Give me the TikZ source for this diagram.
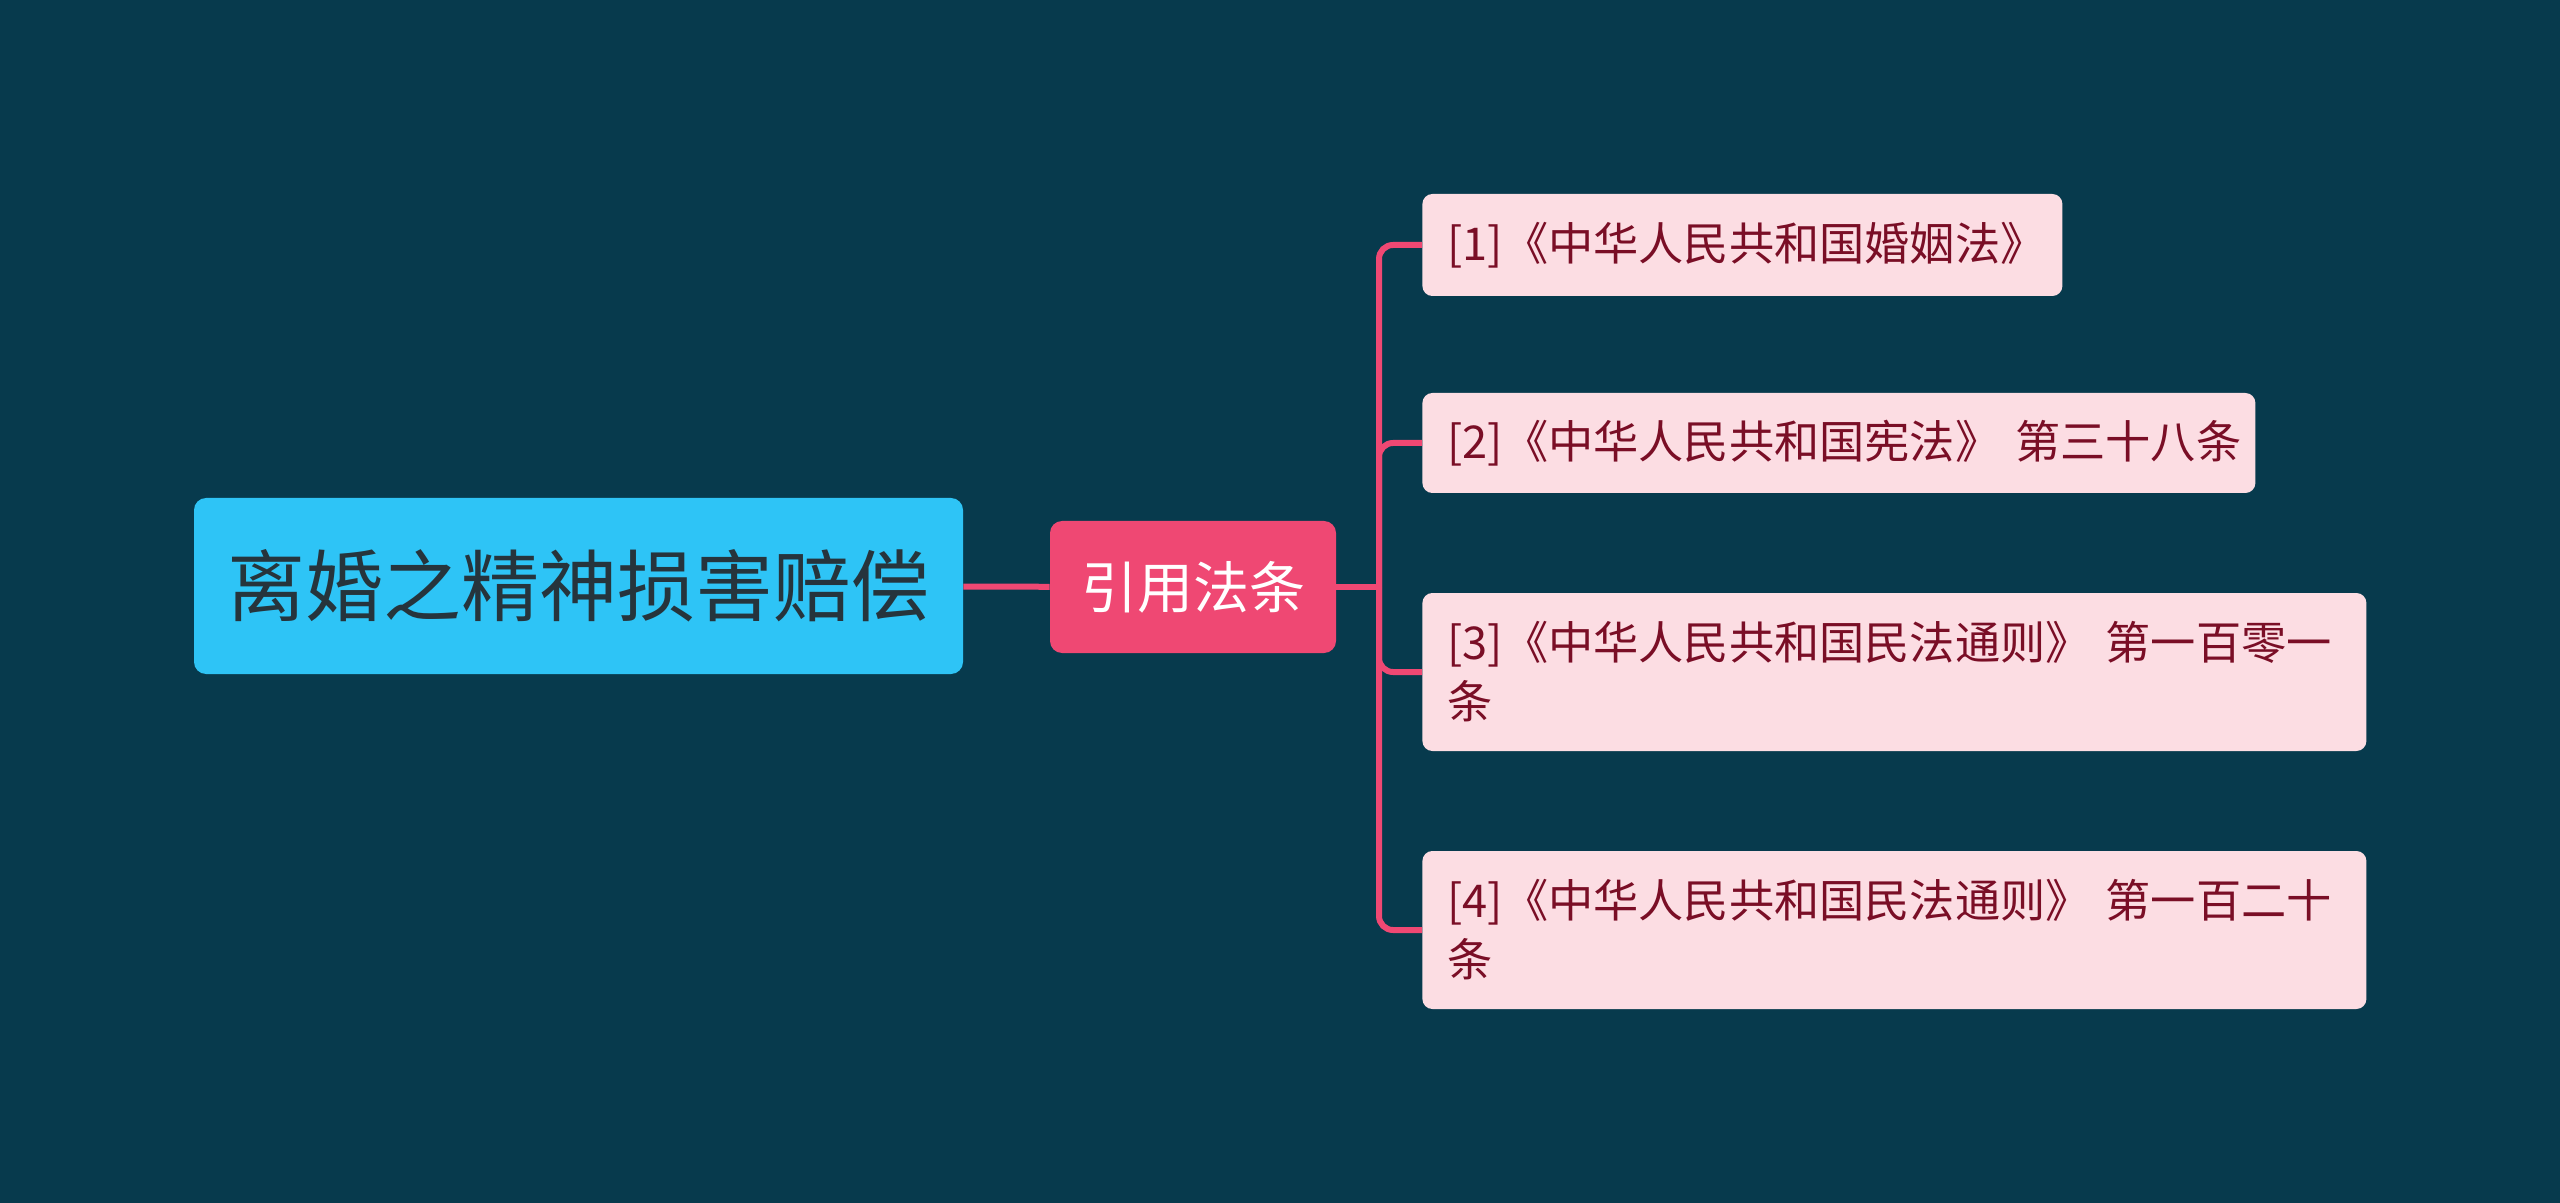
\documentclass[tikz,border=0pt]{standalone}
\usepackage{fontspec}
\setmainfont{Noto Sans CJK SC}
\usetikzlibrary{positioning}
\definecolor{cbg}{RGB}{7, 58, 77}
\definecolor{croot}{RGB}{46, 196, 246}
\definecolor{crtext}{RGB}{38, 52, 60}
\definecolor{cpink}{RGB}{239, 72, 115}
\definecolor{cleaf}{RGB}{252, 221, 227}
\definecolor{cltext}{RGB}{122, 14, 38}
\tikzset{
  rootbox/.style={fill=croot, rounded corners=6pt, minimum width=384.5pt, minimum height=88pt,
                  inner sep=0pt, text=crtext, font=\fontsize{39}{46}\selectfont},
  midbox/.style={fill=cpink, rounded corners=6pt, minimum width=143pt, minimum height=66pt,
                 inner sep=0pt, text=white, font=\fontsize{28}{32}\selectfont},
  leaf/.style={fill=cleaf, rounded corners=5pt, align=left, anchor=west, inner xsep=12.5pt,
               inner ysep=0pt, text=cltext, font=\fontsize{22.6}{29.5}\selectfont},
  link/.style={draw=cpink, line width=3pt},
}

\begin{document}
\begin{tikzpicture}[x=0.5pt, y=-0.5pt]

% ---------- 背景 ----------
\path[fill=cbg] (0,0) rectangle (2560,1203);

% ---------- 中心与分支 ----------
\node[rootbox] (root) at (578.5,586) {离婚之精神损害赔偿};
\node[midbox] (cite) at (1193,587) {引用法条};
\coordinate (trunk) at (1379,587);

% ---------- 法条 ----------
\node[leaf, text width=295pt, minimum height=51pt] (law1) at (1422,245)
  {[1]《中华人民共和国婚姻法》};
\node[leaf, text width=391.5pt, minimum height=50pt] (law2) at (1422,443)
  {[2]《中华人民共和国宪法》~第三十八条};
\node[leaf, text width=447pt, minimum height=79pt] (law3) at (1422,672)
  {[3]《中华人民共和国民法通则》~第一百零一\\条};
\node[leaf, text width=447pt, minimum height=79pt] (law4) at (1422,930)
  {[4]《中华人民共和国民法通则》~第一百二十\\条};

\draw[link] (root) -- (cite);
\draw[link] (cite.east) -- (trunk);
\foreach \n in {law1, law2, law3, law4}
  \draw[link, rounded corners=7pt] (trunk) |- (\n.west);

\end{tikzpicture}
\end{document}
